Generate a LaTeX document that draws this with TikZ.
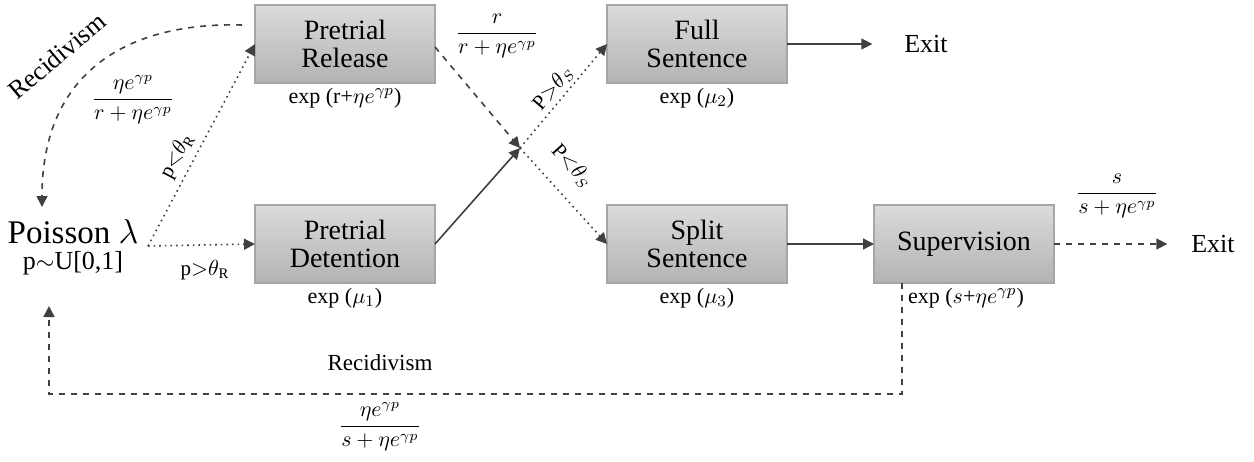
\documentclass[tikz,border=0pt]{standalone}
\usepackage{amsmath}
\usepackage{fontspec}
\setmainfont{Liberation Serif}
\usepackage{tikz}
\usetikzlibrary{arrows.meta}

\definecolor{linegray}{RGB}{64,64,64}
\definecolor{boxline}{RGB}{166,166,166}
\tikzset{
  statebox/.style={draw=boxline, line width=0.6pt, top color=black!14,
    bottom color=black!30, minimum width=90pt, minimum height=39pt,
    align=center, font=\fontsize{14}{14}\selectfont, inner sep=0pt},
  ratelabel/.style={font=\fontsize{11}{12}\selectfont, inner sep=0pt},
  fraclabel/.style={font=\fontsize{10.5}{11}\selectfont, inner sep=0pt},
  condlabel/.style={font=\fontsize{10.5}{11}\selectfont, inner sep=0pt},
  exitlabel/.style={font=\fontsize{13}{14}\selectfont, inner sep=0pt},
  flow/.style={draw=linegray, line width=0.8pt, -{Triangle[length=5.5pt,width=5.5pt]}},
}

\begin{document}
\begin{tikzpicture}[y=0.5pt, x=0.5pt, yscale=-1, inner sep=0pt, outer sep=0pt]
\useasboundingbox (0,0) rectangle (1254,461);

% states
\path (345,44) node[statebox] (release) {Pretrial\\Release};
\path (345,244) node[statebox] (detention) {Pretrial\\Detention};
\path (697,44) node[statebox] (full) {Full\\Sentence};
\path (697,244) node[statebox] (split) {Split\\Sentence};
\path (964,244) node[statebox] (superv) {Supervision};

\path (73,232) node[font=\fontsize{16.5}{18}\selectfont] (poisson) {Poisson $\lambda$};
\path (73,263) node[font=\fontsize{13}{15}\selectfont] (uniform) {p$\sim$U[0,1]};
\path (926,44) node[exitlabel] (exitfull) {Exit};
\path (1213,244) node[exitlabel] (exitsup) {Exit};

% holding times
\path (345,98) node[ratelabel] (raterel) {exp (r+$\eta e^{\gamma p}$)};
\path (345,298) node[ratelabel] (ratedet) {exp ($\mu_1$)};
\path (697,98) node[ratelabel] (ratefull) {exp ($\mu_2$)};
\path (697,298) node[ratelabel] (ratesplit) {exp ($\mu_3$)};
\path (966,298) node[ratelabel] (ratesup) {exp ($s$+$\eta e^{\gamma p}$)};

% branching points
\coordinate (fork) at (148,246);
\coordinate (cross) at (520,148);
\coordinate (supdown) at (902,394);
\coordinate (poisdown) at (49,394);

% pretrial split
\path[flow, dotted] (fork) -- (release.west);
\path[flow, dotted] (fork) -- (detention.west);
\path (177,156) node[rotate=62, condlabel] (lowR) {p${<}\theta_{\mathrm{R}}$};
\path (205,270) node[condlabel] (highR) {p${>}\theta_{\mathrm{R}}$};

% recidivism from release
\path[flow, dashed] (242,25) .. controls (130,22) and (42,70) .. (42,207);
\path (57,56) node[rotate=40, font=\fontsize{13}{14}\selectfont] (recidrel) {Recidivism};
\path (133,100) node[fraclabel] (fracrel) {$\dfrac{\eta e^{\gamma p}}{r+\eta e^{\gamma p}}$};

% trial outcome
\path[flow, dashed] (release.east) ++(0,3) -- (cross);
\path[flow] (detention.east) -- (cross);
\path (497,36) node[fraclabel] (fracout) {$\dfrac{r}{r+\eta e^{\gamma p}}$};
\path[flow, dotted] (cross) -- (full.west);
\path[flow, dotted] (cross) -- (split.west);
\path (553,88) node[rotate=50, condlabel] (highS) {P${>}\theta_S$};
\path (572,166) node[rotate=-48, condlabel] (lowS) {P${<}\theta_S$};

% sentences
\path[flow, shorten >=16pt] (full.east) -- (exitfull.west);
\path[flow] (split.east) -- (superv.west);
\path[flow, dashed, shorten >=12pt] (superv.east) -- (exitsup.west);
\path (1117,196) node[fraclabel] (fracexit) {$\dfrac{s}{s+\eta e^{\gamma p}}$};

% recidivism from supervision
\path[flow, dashed] (superv.south -| supdown) -- (supdown) -- (poisdown) -- (49,306);
\path (380,363) node[font=\fontsize{11.5}{13}\selectfont] (recidsup) {Recidivism};
\path (380,427) node[fraclabel] (fracsup) {$\dfrac{\eta e^{\gamma p}}{s+\eta e^{\gamma p}}$};

\end{tikzpicture}
\end{document}
